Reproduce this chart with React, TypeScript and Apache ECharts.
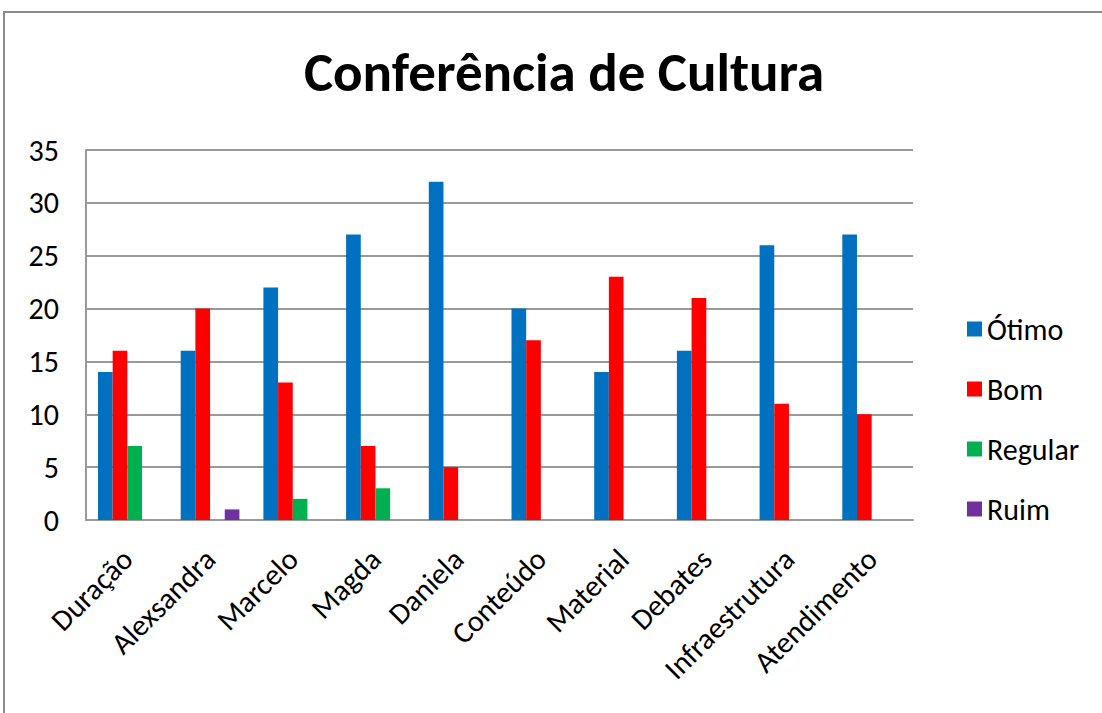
import React, { useEffect, useRef } from "react";
import * as echarts from "echarts";

const categories = ["Duração", "Alexsandra", "Marcelo", "Magda", "Daniela", "Conteúdo", "Material", "Debates", "Infraestrutura", "Atendimento"];
const otimo = [14, 16, 22, 27, 32, 20, 14, 16, 26, 27];
const bom = [16, 20, 13, 7, 5, 17, 23, 21, 11, 10];
const regular = [7, 0, 2, 3, 0, 0, 0, 0, 0, 0];
const ruim = [0, 1, 0, 0, 0, 0, 0, 0, 0, 0];
const seriesNames = ["Ótimo", "Bom", "Regular", "Ruim"];
const colors = ["#0070C0", "#FF0000", "#00B050", "#7030A0"];

const FONT = "Calibri, Lato, 'Open Sans', sans-serif";

export default function App() {
  const ref = useRef<HTMLDivElement>(null);
  useEffect(() => {
    if (!ref.current) return;
    const chart = echarts.init(ref.current, undefined, { renderer: "svg" });
    const data = [otimo, bom, regular, ruim];
    chart.setOption({
      animation: false,
      backgroundColor: "#ffffff",
      textStyle: { fontFamily: FONT },
      title: {
        text: "Conferência de Cultura",
        left: 559,
        textAlign: "center",
        top: 40,
        textStyle: { fontFamily: FONT, fontSize: 55, fontWeight: "bold", color: "#000" },
      },
      graphic: [
        {
          type: "rect",
          shape: { x: 4, y: 12, width: 1120, height: 740 },
          style: { fill: "none", stroke: "#8a8a8a", lineWidth: 2 },
          silent: true,
        },
      ],
      legend: {
        orient: "vertical",
        left: 962,
        top: 309,
        itemWidth: 15,
        itemHeight: 15,
        itemGap: 30,
        icon: "rect",
        textStyle: { fontFamily: FONT, fontSize: 30, color: "#000", padding: [0, 0, 0, 0] },
        data: seriesNames,
      },
      grid: { left: 86, right: 189, top: 150, bottom: 193, containLabel: false },
      xAxis: {
        type: "category",
        data: categories,
        axisLine: { lineStyle: { color: "#999", width: 2 } },
        axisTick: { show: false },
        axisLabel: { rotate: 45, fontFamily: FONT, fontSize: 30, color: "#000", margin: 34, interval: 0 },
      },
      yAxis: {
        type: "value",
        min: 0,
        max: 35,
        interval: 5,
        axisLine: { show: true, lineStyle: { color: "#999", width: 2 } },
        axisTick: { show: false },
        splitLine: { lineStyle: { color: "#999", width: 2 } },
        axisLabel: { fontFamily: FONT, fontSize: 30, color: "#000", margin: 27 },
      },
      series: seriesNames.map((name, i) => ({
        name,
        type: "bar",
        data: data[i],
        barGap: "0%",
        barCategoryGap: "29%",
        itemStyle: { color: colors[i] },
      })),
    });
    return () => chart.dispose();
  }, []);
  return <div ref={ref} style={{ position: "fixed", left: 0, top: 0, width: 1102, height: 713 }} />;
}
